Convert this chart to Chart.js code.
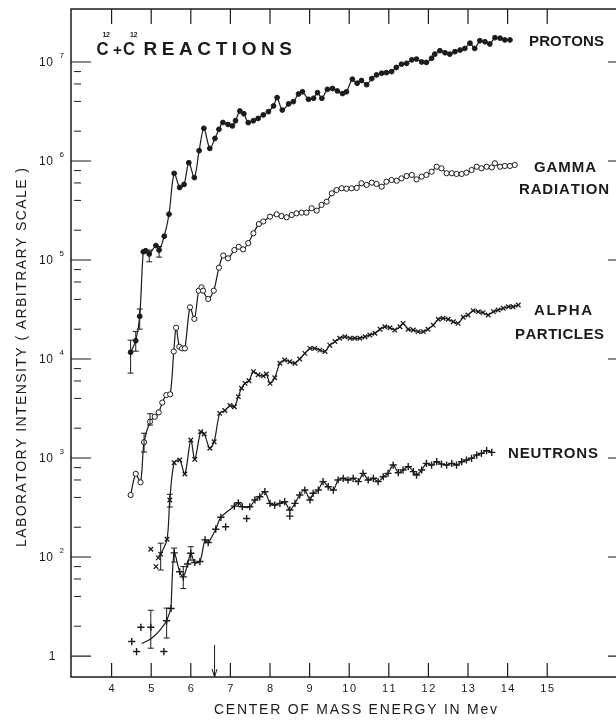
<!DOCTYPE html>
<html>
<head>
<meta charset="utf-8">
<title>C12 + C12 reactions</title>
<script src="https://cdn.jsdelivr.net/npm/chart.js@4.4.0/dist/chart.umd.min.js"></script>
<style>
    html, body { margin: 0; padding: 0; background: #fff; }
    #chart { display: block; }
</style>
</head>
<body>
<canvas id="chart" width="616" height="720"></canvas>
<script>
// Axis ticks (energy in MeV, log intensity decades)
const xTicks = [4, 5, 6, 7, 8, 9, 10, 11, 12, 13, 14, 15];
const xTickLabels = ['4', '5', '6', '7', '8', '9', '10', '11', '12', '13', '14', '15'];
const yDecades = [10, 1e2, 1e3, 1e4, 1e5, 1e6, 1e7];
const yTickBase = ['1', '10', '10', '10', '10', '10', '10'];
const yTickExp = ['', '2', '3', '4', '5', '6', '7'];
const yMinorSteps = [2, 4, 6, 8];
const arrowEnergy = 6.6;

// Protons (filled dots)
const protonX = [4.48, 4.61, 4.71, 4.80, 4.86, 4.95, 5.12, 5.20, 5.33, 5.45,
    5.58, 5.72, 5.83, 5.95, 6.09, 6.21, 6.33, 6.48, 6.61, 6.71,
    6.81, 6.94, 7.05, 7.13, 7.24, 7.34, 7.45, 7.58, 7.70, 7.83,
    7.96, 8.09, 8.18, 8.31, 8.47, 8.59, 8.72, 8.82, 8.97, 9.10,
    9.20, 9.31, 9.45, 9.58, 9.70, 9.83, 9.93, 10.08, 10.20, 10.31,
    10.44, 10.57, 10.69, 10.82, 10.94, 11.07, 11.19, 11.32, 11.45, 11.58,
    11.70, 11.83, 11.95, 12.08, 12.16, 12.29, 12.42, 12.54, 12.67, 12.80,
    12.92, 13.05, 13.17, 13.30, 13.43, 13.55, 13.68, 13.81, 13.93, 14.06];
const protonY = [1.17e4, 1.53e4, 2.7e4, 1.21e5, 1.24e5, 1.15e5, 1.4e5, 1.26e5, 1.74e5, 2.9e5,
    7.5e5, 5.4e5, 5.8e5, 9.6e5, 6.8e5, 1.27e6, 2.14e6, 1.34e6, 1.69e6, 2.09e6,
    2.45e6, 2.34e6, 2.26e6, 2.55e6, 3.2e6, 3.0e6, 2.44e6, 2.55e6, 2.69e6, 2.92e6,
    3.15e6, 3.6e6, 4.37e6, 3.27e6, 3.77e6, 3.98e6, 4.75e6, 5.0e6, 4.2e6, 4.3e6,
    4.9e6, 4.3e6, 5.3e6, 5.4e6, 5.1e6, 4.8e6, 5.0e6, 6.7e6, 6.1e6, 6.5e6,
    5.9e6, 6.8e6, 7.4e6, 7.7e6, 7.8e6, 8.0e6, 8.8e6, 9.5e6, 9.7e6, 1.05e7,
    1.07e7, 1.0e7, 9.9e6, 1.09e7, 1.2e7, 1.3e7, 1.24e7, 1.2e7, 1.27e7, 1.32e7,
    1.37e7, 1.55e7, 1.37e7, 1.64e7, 1.6e7, 1.52e7, 1.76e7, 1.74e7, 1.67e7, 1.67e7];

// Gamma radiation (open circles)
const gammaX = [4.48, 4.61, 4.73, 4.82, 4.97, 5.09, 5.19, 5.28, 5.38, 5.48,
    5.57, 5.63, 5.71, 5.78, 5.85, 5.98, 6.09, 6.20, 6.27, 6.31,
    6.44, 6.58, 6.71, 6.82, 6.94, 7.10, 7.21, 7.32, 7.45, 7.58,
    7.72, 7.83, 8.00, 8.17, 8.29, 8.42, 8.55, 8.67, 8.80, 8.92,
    9.05, 9.18, 9.30, 9.43, 9.56, 9.68, 9.81, 9.93, 10.06, 10.19,
    10.31, 10.44, 10.57, 10.69, 10.82, 10.94, 11.07, 11.20, 11.32, 11.45,
    11.58, 11.70, 11.83, 11.95, 12.08, 12.21, 12.33, 12.46, 12.59, 12.71,
    12.84, 12.96, 13.09, 13.22, 13.34, 13.47, 13.60, 13.68, 13.81, 13.93,
    14.06, 14.18];
const gammaY = [423, 692, 568, 1445, 2330, 2610, 2890, 3630, 4320, 4400,
    1.19e4, 2.07e4, 1.33e4, 1.28e4, 1.28e4, 3.33e4, 2.54e4, 4.9e4, 5.3e4, 4.9e4,
    4.04e4, 4.9e4, 8.36e4, 1.11e5, 1.04e5, 1.26e5, 1.36e5, 1.28e5, 1.48e5, 1.86e5,
    2.31e5, 2.45e5, 2.74e5, 2.89e5, 2.78e5, 2.70e5, 2.85e5, 2.96e5, 3.01e5, 3.01e5,
    3.33e5, 3.15e5, 3.60e5, 3.88e5, 4.72e5, 5.09e5, 5.30e5, 5.25e5, 5.30e5, 5.35e5,
    5.96e5, 5.73e5, 6.04e5, 5.86e5, 5.50e5, 6.18e5, 6.43e5, 6.32e5, 6.68e5, 7.05e5,
    7.23e5, 6.53e5, 6.95e5, 7.23e5, 7.80e5, 8.75e5, 8.43e5, 7.52e5, 7.52e5, 7.40e5,
    7.40e5, 7.62e5, 8.11e5, 8.75e5, 8.43e5, 8.75e5, 8.61e5, 9.48e5, 8.75e5, 8.91e5,
    8.91e5, 9.12e5];

// Alpha particles (x marks)
const alphaX = [5.18, 5.24, 5.40, 5.47, 5.58, 5.72, 5.85, 6.00, 6.10, 6.25,
    6.34, 6.48, 6.59, 6.73, 6.86, 6.99, 7.10, 7.20, 7.28, 7.37,
    7.47, 7.58, 7.70, 7.83, 7.91, 8.00, 8.12, 8.25, 8.37, 8.50,
    8.63, 8.75, 8.88, 9.01, 9.13, 9.26, 9.39, 9.51, 9.64, 9.76,
    9.89, 10.02, 10.14, 10.27, 10.40, 10.52, 10.65, 10.78, 10.90, 11.03,
    11.15, 11.28, 11.36, 11.49, 11.62, 11.74, 11.87, 11.99, 12.12, 12.25,
    12.37, 12.50, 12.63, 12.75, 12.88, 13.00, 13.13, 13.26, 13.38, 13.51,
    13.64, 13.76, 13.89, 14.02, 14.14, 14.27];
const alphaY = [98, 107, 151, 377, 897, 955, 689, 1520, 970, 1845,
    1746, 1253, 1462, 2825, 3020, 3390, 3296, 4170, 5058, 5675,
    6030, 7450, 6920, 6760, 7050, 5675, 6460, 9060, 9770, 9400,
    9060, 1.0e4, 1.14e4, 1.28e4, 1.28e4, 1.23e4, 1.19e4, 1.38e4, 1.50e4, 1.62e4,
    1.68e4, 1.62e4, 1.62e4, 1.62e4, 1.68e4, 1.75e4, 1.82e4, 2.0e4, 2.12e4, 2.07e4,
    1.96e4, 2.12e4, 2.29e4, 2.0e4, 1.96e4, 1.89e4, 1.89e4, 2.0e4, 2.2e4, 2.52e4,
    2.58e4, 2.52e4, 2.38e4, 2.29e4, 2.64e4, 2.78e4, 3.08e4, 3.01e4, 2.94e4, 2.78e4,
    3.01e4, 3.13e4, 3.25e4, 3.37e4, 3.37e4, 3.51e4];
const alphaLooseX = [4.99, 5.12];
const alphaLooseY = [120, 80];

// Neutrons (+ marks)
const neutronX = [5.50, 5.58, 5.72, 5.81, 5.92, 6.00, 6.10, 6.23, 6.36, 6.44,
    6.63, 6.76, 7.10, 7.20, 7.30, 7.49, 7.62, 7.74, 7.87, 8.00,
    8.12, 8.25, 8.37, 8.50, 8.63, 8.75, 8.88, 9.01, 9.09, 9.22,
    9.34, 9.47, 9.60, 9.72, 9.85, 9.97, 10.10, 10.23, 10.35, 10.48,
    10.61, 10.73, 10.86, 10.98, 11.11, 11.24, 11.36, 11.49, 11.62, 11.70,
    11.83, 11.95, 12.08, 12.21, 12.33, 12.46, 12.59, 12.71, 12.84, 12.96,
    13.09, 13.22, 13.34, 13.47, 13.60];
const neutronY = [30.2, 110, 71, 63, 85, 109, 88, 90, 149, 140,
    191, 252, 327, 353, 322, 322, 377, 406, 457, 348,
    335, 348, 362, 299, 348, 423, 475, 377, 440, 475,
    577, 513, 475, 600, 624, 600, 624, 577, 700, 600,
    624, 577, 647, 700, 849, 711, 757, 817, 728, 673,
    757, 883, 849, 918, 869, 849, 883, 849, 918, 955,
    993, 1072, 1114, 1186, 1140];
const neutronLooseX = [4.51, 4.63, 4.74, 4.99, 5.32, 5.39, 6.88, 7.41, 8.50];
const neutronLooseY = [14.0, 11.1, 19.5, 19.5, 11.1, 22.7, 202, 245, 259];
const neutronFitX = [4.76, 5.01, 5.26, 5.39, 5.50];
const neutronFitY = [13.4, 15.1, 19.1, 22.9, 30.2];

// Error bars
const protonErrX = [4.48, 4.61, 4.71, 4.95, 5.20];
const protonErrLo = [7.2e3, 1.2e4, 2.0e4, 9.6e4, 1.07e5];
const protonErrHi = [1.55e4, 1.9e4, 3.2e4, 1.26e5, 1.37e5];
const gammaErrX = [4.82, 4.97];
const gammaErrLo = [1150, 2150];
const gammaErrHi = [1780, 2800];
const alphaErrX = [5.24, 5.47];
const alphaErrLo = [74, 320];
const alphaErrHi = [138, 430];
const neutronErrX = [4.99, 5.39, 5.58, 5.81, 6.00];
const neutronErrLo = [12, 15.2, 89, 48, 93];
const neutronErrHi = [29, 30.5, 123, 80, 127];

const INK = '#1b1b1b';
const FONT = '"Liberation Sans", Arial, sans-serif';

function toPoints(xs, ys) {
    return xs.map((x, i) => ({ x: x, y: ys[i] }));
}

const errorBars = [
    { x: protonErrX, lo: protonErrLo, hi: protonErrHi },
    { x: gammaErrX, lo: gammaErrLo, hi: gammaErrHi },
    { x: alphaErrX, lo: alphaErrLo, hi: alphaErrHi },
    { x: neutronErrX, lo: neutronErrLo, hi: neutronErrHi }
];

// draw text so that it fills [x0, x1]
function spreadText(ctx, text, x0, x1, y) {
    const chars = [...text];
    const widths = chars.map(c => ctx.measureText(c).width);
    const total = widths.reduce((a, b) => a + b, 0);
    const gap = chars.length > 1 ? (x1 - x0 - total) / (chars.length - 1) : 0;
    let x = x0;
    chars.forEach((c, i) => {
        ctx.fillText(c, x, y);
        x += widths[i] + gap;
    });
}

function spacedCentered(ctx, text, cx, y, spacing) {
    const chars = [...text];
    const widths = chars.map(c => ctx.measureText(c).width);
    const total = widths.reduce((a, b) => a + b, 0) + spacing * (chars.length - 1);
    let x = cx - total / 2;
    chars.forEach((c, i) => {
        ctx.fillText(c, x, y);
        x += widths[i] + spacing;
    });
}

// squeeze a glyph horizontally into a given width
function fitGlyph(ctx, ch, x0, x1, y) {
    const w = ctx.measureText(ch).width;
    ctx.save();
    ctx.translate(x0, y);
    ctx.scale((x1 - x0) / w, 1);
    ctx.fillText(ch, 0, 0);
    ctx.restore();
}

const paperPlugin = {
    id: 'paper',
    afterDatasetsDraw(chart) {
        const { ctx, chartArea: area, scales } = chart;
        const xs = scales.x;
        const ys = scales.y;
        ctx.save();
        ctx.strokeStyle = INK;
        ctx.fillStyle = INK;

        // error bars
        ctx.lineWidth = 1;
        errorBars.forEach(group => {
            group.x.forEach((e, i) => {
                const px = xs.getPixelForValue(e);
                const top = ys.getPixelForValue(group.hi[i]);
                const bot = ys.getPixelForValue(group.lo[i]);
                ctx.beginPath();
                ctx.moveTo(px, top); ctx.lineTo(px, bot);
                ctx.moveTo(px - 3, top); ctx.lineTo(px + 3, top);
                ctx.moveTo(px - 3, bot); ctx.lineTo(px + 3, bot);
                ctx.stroke();
            });
        });

        // frame: top, left, bottom
        ctx.lineWidth = 1.5;
        ctx.beginPath();
        ctx.moveTo(area.right, area.top);
        ctx.lineTo(area.left, area.top);
        ctx.lineTo(area.left, area.bottom);
        ctx.lineTo(area.right, area.bottom);
        ctx.stroke();

        // x ticks, top and bottom, pointing inward
        ctx.lineWidth = 1.2;
        xTicks.forEach(t => {
            const px = xs.getPixelForValue(t);
            ctx.beginPath();
            ctx.moveTo(px, area.top); ctx.lineTo(px, area.top + 15);
            ctx.moveTo(px, area.bottom); ctx.lineTo(px, area.bottom - 14);
            ctx.stroke();
        });

        // y ticks
        yDecades.forEach(d => {
            const py = ys.getPixelForValue(d);
            ctx.beginPath();
            ctx.moveTo(area.left, py); ctx.lineTo(area.left + 20, py);
            ctx.moveTo(area.right - 8, py); ctx.lineTo(area.right, py);
            ctx.stroke();
        });
        ctx.lineWidth = 1;
        yDecades.slice(0, -1).forEach(d => {
            yMinorSteps.forEach(m => {
                const py = ys.getPixelForValue(d * m);
                ctx.beginPath();
                ctx.moveTo(area.left + 3, py); ctx.lineTo(area.left + 10, py);
                ctx.stroke();
            });
        });

        // arrow at the threshold energy
        const ax = xs.getPixelForValue(arrowEnergy);
        ctx.beginPath();
        ctx.moveTo(ax, area.bottom - 32); ctx.lineTo(ax, area.bottom);
        ctx.moveTo(ax - 2.5, area.bottom - 8); ctx.lineTo(ax, area.bottom);
        ctx.lineTo(ax + 2.5, area.bottom - 8);
        ctx.stroke();

        // tick labels
        ctx.textBaseline = 'middle';
        ctx.textAlign = 'left';
        ctx.font = '11px ' + FONT;
        xTicks.forEach((t, i) => {
            spacedCentered(ctx, xTickLabels[i], xs.getPixelForValue(t), area.bottom + 12, 1.5);
        });
        yDecades.forEach((d, i) => {
            const py = ys.getPixelForValue(d);
            ctx.font = '12px ' + FONT;
            if (yTickExp[i] === '') {
                spacedCentered(ctx, yTickBase[i], 52, py + 0.5, 0);
            } else {
                spreadText(ctx, yTickBase[i], 39, 53, py + 1);
                ctx.font = '8px ' + FONT;
                ctx.fillText(yTickExp[i], 59.5, py - 6);
            }
        });

        // axis titles
        ctx.font = '14px ' + FONT;
        spreadText(ctx, 'CENTER OF MASS ENERGY IN Mev', 214, 497, 710);
        ctx.save();
        ctx.translate(22, 357.5);
        ctx.rotate(-Math.PI / 2);
        spreadText(ctx, 'LABORATORY INTENSITY ( ARBITRARY SCALE )', -189.5, 189.5, 0);
        ctx.restore();

        // plot title
        ctx.font = 'bold 19px ' + FONT;
        fitGlyph(ctx, 'C', 96.5, 108.5, 49.5);
        fitGlyph(ctx, 'C', 123, 135, 49.5);
        spreadText(ctx, 'REACTIONS', 143.5, 292, 49.5);
        ctx.font = 'bold 14px ' + FONT;
        fitGlyph(ctx, '+', 113, 122, 51);
        ctx.font = 'bold 7px ' + FONT;
        spreadText(ctx, '12', 102.5, 110, 35.5);
        spreadText(ctx, '12', 130, 137.5, 35.5);

        // series labels
        ctx.font = 'bold 15px ' + FONT;
        spreadText(ctx, 'PROTONS', 529, 604, 42);
        spreadText(ctx, 'GAMMA', 534, 596, 167.5);
        spreadText(ctx, 'RADIATION', 519, 609, 190);
        spreadText(ctx, 'ALPHA', 534, 592, 311);
        spreadText(ctx, 'PARTICLES', 515, 604, 334.5);
        spreadText(ctx, 'NEUTRONS', 508, 598, 454);

        ctx.restore();
    }
};

const lineStyle = {
    showLine: true,
    borderColor: INK,
    borderWidth: 1.2,
    tension: 0.3,
    pointBorderColor: INK
};

new Chart(document.getElementById('chart'), {
    type: 'scatter',
    data: {
        datasets: [
            Object.assign({}, lineStyle, {
                label: 'Protons',
                data: toPoints(protonX, protonY),
                pointStyle: 'circle',
                pointRadius: 2.4,
                pointBackgroundColor: INK,
                pointBorderWidth: 1
            }),
            Object.assign({}, lineStyle, {
                label: 'Gamma radiation',
                data: toPoints(gammaX, gammaY),
                pointStyle: 'circle',
                pointRadius: 2.6,
                pointBackgroundColor: '#fff',
                pointBorderWidth: 1
            }),
            Object.assign({}, lineStyle, {
                label: 'Alpha particles',
                data: toPoints(alphaX, alphaY),
                pointStyle: 'crossRot',
                pointRadius: 3.2,
                pointBorderWidth: 1.3
            }),
            Object.assign({}, lineStyle, {
                label: 'Alpha (scattered)',
                data: toPoints(alphaLooseX, alphaLooseY),
                showLine: false,
                pointStyle: 'crossRot',
                pointRadius: 3.2,
                pointBorderWidth: 1.3
            }),
            Object.assign({}, lineStyle, {
                label: 'Neutrons',
                data: toPoints(neutronX, neutronY),
                pointStyle: 'cross',
                pointRadius: 3.6,
                pointBorderWidth: 1.4
            }),
            Object.assign({}, lineStyle, {
                label: 'Neutrons (fit)',
                data: toPoints(neutronFitX, neutronFitY),
                tension: 0.4,
                pointRadius: 0
            }),
            Object.assign({}, lineStyle, {
                label: 'Neutrons (scattered)',
                data: toPoints(neutronLooseX, neutronLooseY),
                showLine: false,
                pointStyle: 'cross',
                pointRadius: 3.6,
                pointBorderWidth: 1.4
            })
        ]
    },
    options: {
        responsive: false,
        animation: false,
        devicePixelRatio: 1,
        layout: {
            autoPadding: false,
            padding: { left: 71, right: 0, top: 9, bottom: 43 }
        },
        plugins: {
            legend: { display: false },
            tooltip: { enabled: false }
        },
        scales: {
            x: { type: 'linear', min: 2.975, max: 16.737, display: false },
            y: { type: 'logarithmic', min: 6.14, max: 3.43e7, bounds: 'data', display: false }
        }
    },
    plugins: [paperPlugin]
});
</script>
</body>
</html>
